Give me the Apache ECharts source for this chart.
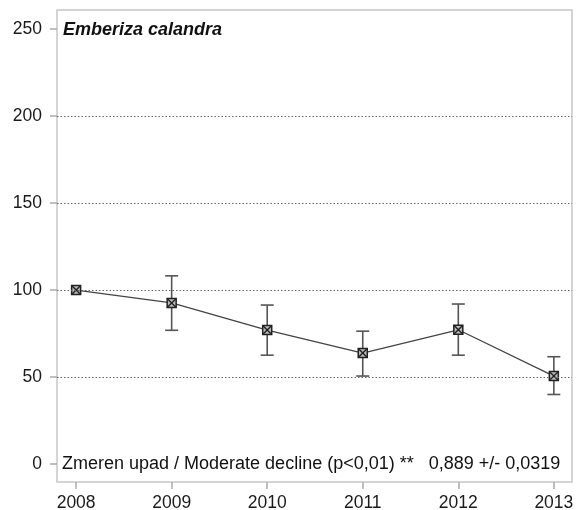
<!DOCTYPE html>
<html><head><meta charset="utf-8">
<script src="https://cdn.jsdelivr.net/npm/echarts@6/dist/echarts.min.js"></script>
<style>html,body{margin:0;padding:0;background:#fff}#c{width:576px;height:510px}</style>
</head><body><div id="c"></div>
<script>
var years = [2008, 2009, 2010, 2011, 2012, 2013];
var index = [100, 92.6, 77, 63.8, 77.2, 50.6];
var lower = [100, 76.9, 62.6, 50.6, 62.6, 40];
var upper = [100, 108.2, 91.4, 76.4, 92, 61.7];
var yTicks = [0, 50, 100, 150, 200, 250];
var gridValues = [50, 100, 150, 200];
var speciesName = 'Emberiza calandra';
var trendText = 'Zmeren upad / Moderate decline (p<0,01) **   0,889 +/- 0,0319';

var chart = echarts.init(document.getElementById('c'));
var font = 'Liberation Sans, Arial, sans-serif';
chart.setOption({
  animation: false,
  backgroundColor: '#fff',
  grid: {left: 57, top: 10, right: 4, bottom: 28, outerBoundsMode: 'none', containLabel: false, show: true, borderColor: '#c8c8c8', borderWidth: 1.5, backgroundColor: 'transparent'},
  xAxis: {
    type: 'value', min: 2007.8, max: 2013.19,
    axisLine: {show: false, onZero: false}, splitLine: {show: false},
    axisTick: {show: true, length: 7, lineStyle: {color: '#aaa', width: 1.5}, customValues: years},
    axisLabel: {customValues: years, color: '#1a1a1a', fontSize: 17.5, fontFamily: font, margin: 12, formatter: function(v){return String(v);}}
  },
  yAxis: {
    type: 'value', min: -10.3, max: 261,
    axisLine: {show: false, onZero: false}, splitLine: {show: false},
    axisTick: {show: true, length: 7, lineStyle: {color: '#aaa', width: 1.5}, customValues: yTicks},
    axisLabel: {customValues: yTicks, color: '#1a1a1a', fontSize: 17.5, fontFamily: font, margin: 15}
  },
  graphic: [
    {type: 'text', left: 63, top: 21, style: {text: speciesName, font: 'italic bold 18px Liberation Sans, Arial, sans-serif', fill: '#111'}},
    {type: 'text', left: 62, top: 455, style: {text: trendText, font: '18px Liberation Sans, Arial, sans-serif', fill: '#111'}}
  ],
  series: [
    {
      type: 'line', data: years.map(function(y,i){return [y, index[i]];}),
      symbol: 'none', lineStyle: {color: '#444', width: 1.3}, z: 3,
      markLine: {silent: true, symbol: 'none', label: {show: false},
        lineStyle: {color: '#666', type: [1.5, 2], width: 1.2},
        data: gridValues.map(function(v){return {yAxis: v};})}
    },
    {
      type: 'custom', z: 4,
      data: years.map(function(y,i){return [y, index[i], lower[i], upper[i]];}),
      renderItem: function(params, api){
        var x = api.value(0);
        var p = api.coord([x, api.value(1)]);
        var lo = api.coord([x, api.value(2)]);
        var hi = api.coord([x, api.value(3)]);
        var c = '#555', w = 6.5, s = 4.5;
        var st = {stroke: c, lineWidth: 1.6};
        var ch = [];
        if (Math.abs(hi[1]-lo[1]) > 2) {
          ch.push({type:'line', shape:{x1:p[0],y1:hi[1],x2:p[0],y2:lo[1]}, style: st});
          ch.push({type:'line', shape:{x1:p[0]-w,y1:hi[1],x2:p[0]+w,y2:hi[1]}, style: st});
          ch.push({type:'line', shape:{x1:p[0]-w,y1:lo[1],x2:p[0]+w,y2:lo[1]}, style: st});
        }
        ch.push({type:'rect', shape:{x:p[0]-s,y:p[1]-s,width:2*s,height:2*s}, style:{fill:'#bbb', stroke:'#222', lineWidth:1.5}});
        ch.push({type:'line', shape:{x1:p[0]-s,y1:p[1]-s,x2:p[0]+s,y2:p[1]+s}, style:{stroke:'#222', lineWidth:1.4}});
        ch.push({type:'line', shape:{x1:p[0]+s,y1:p[1]-s,x2:p[0]-s,y2:p[1]+s}, style:{stroke:'#222', lineWidth:1.4}});
        return {type:'group', children: ch};
      }
    }
  ]
});
</script>
</body></html>
